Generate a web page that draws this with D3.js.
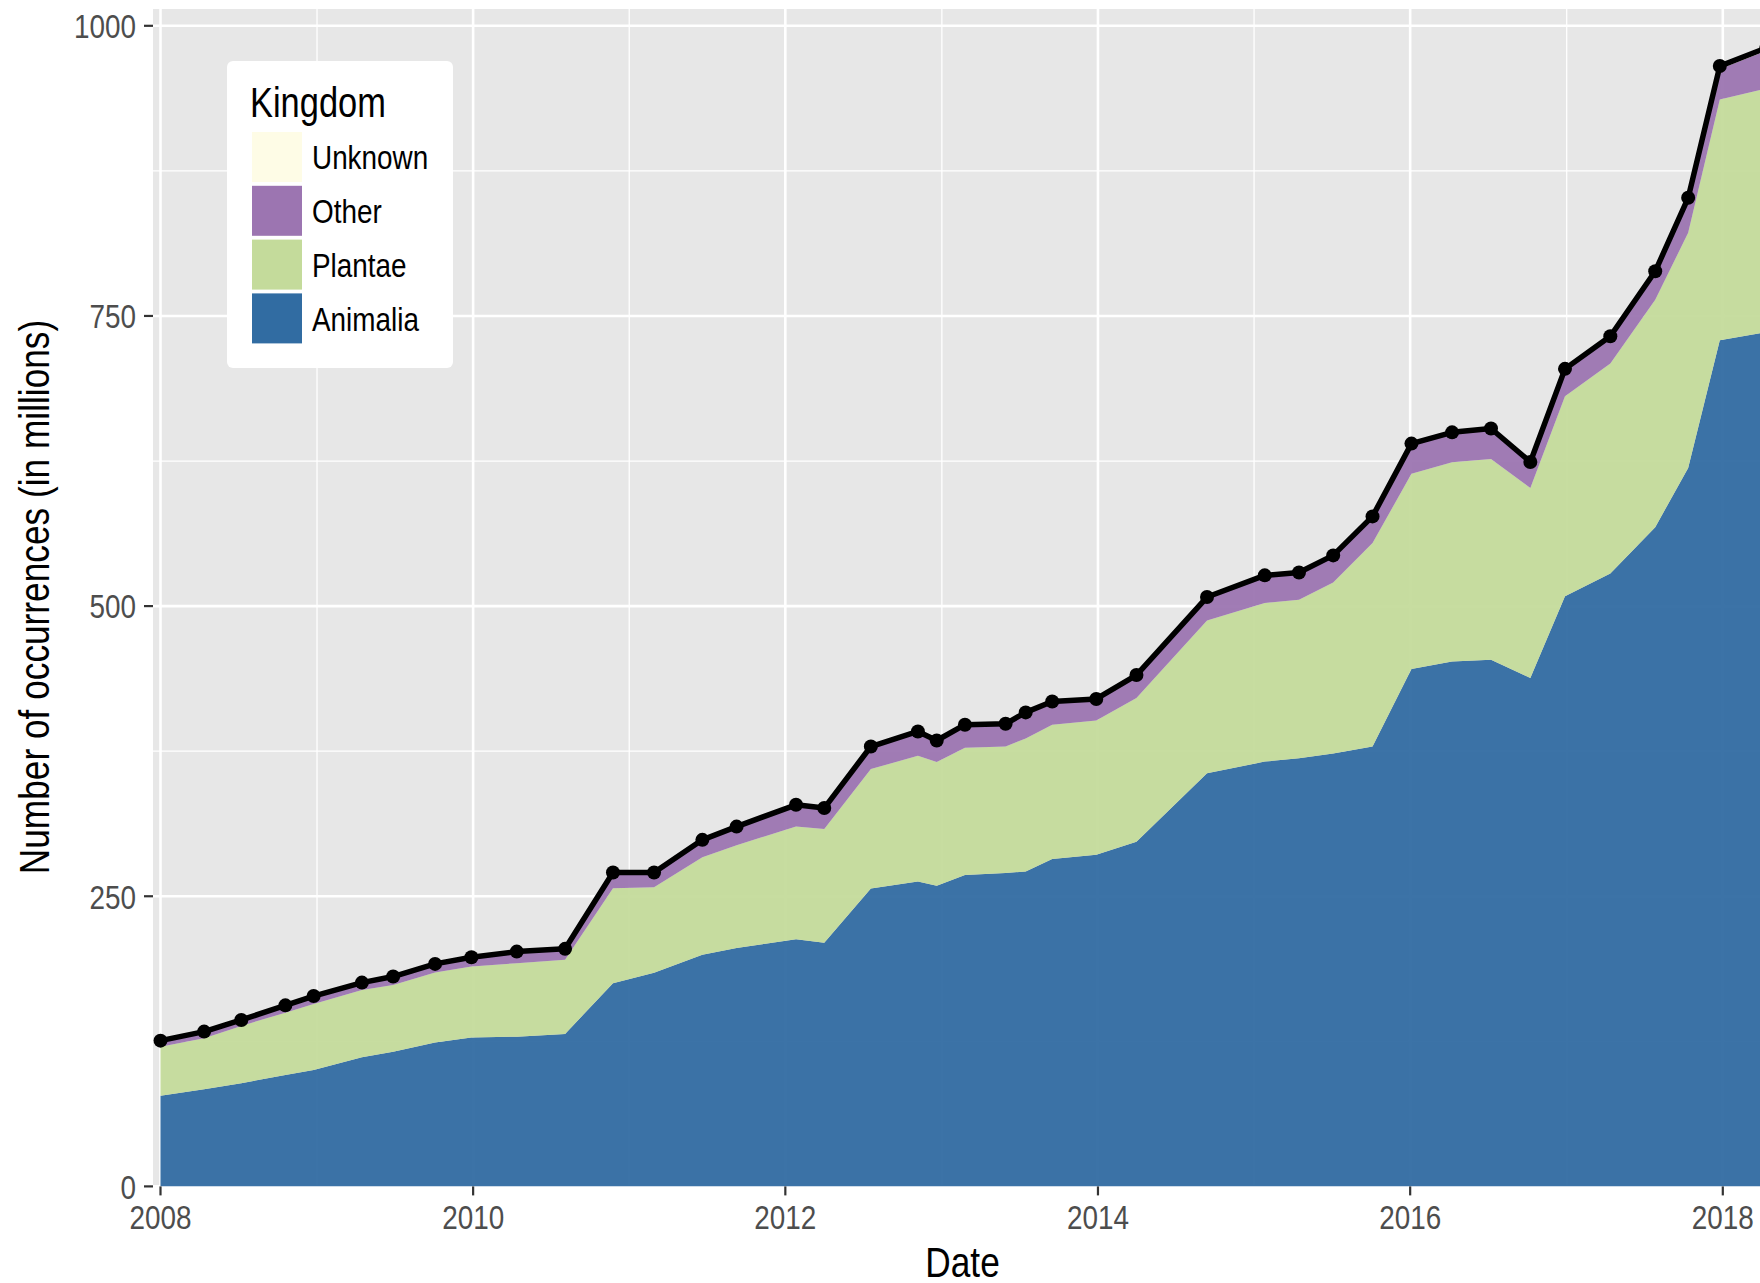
<!DOCTYPE html>
<html>
<head>
<meta charset="utf-8">
<script src="https://cdn.jsdelivr.net/npm/d3@7"></script>
<style>
  html, body { margin: 0; padding: 0; background: #ffffff; }
  svg { display: block; font-family: "Liberation Sans", Arial, sans-serif; }
</style>
</head>
<body>
<svg id="chart" width="1760" height="1283"></svg>
<script>
// snapshot dates
const dates = [
  "2008-01-01", "2008-04-12", "2008-07-08", "2008-10-19", "2008-12-24",
  "2009-04-16", "2009-06-28", "2009-10-04", "2009-12-28", "2010-04-13",
  "2010-08-04", "2010-11-24", "2011-02-28", "2011-06-21", "2011-09-09",
  "2012-01-26", "2012-04-01", "2012-07-19", "2012-11-06", "2012-12-20",
  "2013-02-24", "2013-05-30", "2013-07-16", "2013-09-16", "2013-12-28",
  "2014-04-01", "2014-09-13", "2015-01-26", "2015-04-16", "2015-07-05",
  "2015-10-05", "2016-01-04", "2016-04-08", "2016-07-08", "2016-10-08",
  "2016-12-28", "2017-04-13", "2017-07-27", "2017-10-12", "2017-12-25",
  "2018-04-13"
];

// occurrences per kingdom, in millions
const animalia = [
  78.0, 83.7, 88.9, 96.0, 100.3, 111.3, 116.0, 123.9, 128.2, 129.0,
  131.4, 175.0, 184.0, 199.5, 205.5, 213.0, 210.0, 256.6, 262.7, 259.0,
  268.4, 270.0, 271.3, 282.0, 285.7, 297.0, 356.0, 366.0, 369.0, 373.0,
  379.0, 445.8, 452.3, 453.8, 438.0, 508.4, 528.0, 568.0, 619.0, 729.0,
  736.0
];
const plantae = [
  42.4, 44.0, 49.4, 53.7, 56.9, 58.0, 57.6, 60.3, 61.2, 63.3,
  63.8, 82.0, 73.8, 84.2, 88.5, 97.0, 98.0, 103.0, 108.3, 106.6,
  109.6, 109.0, 114.7, 115.8, 115.8, 123.8, 131.7, 136.7, 136.5, 147.4,
  175.4, 168.2, 171.7, 173.0, 163.8, 172.4, 181.0, 196.0, 202.6, 207.5,
  210.0
];
const other = [
  4.9, 5.4, 4.8, 6.0, 6.5, 6.0, 6.9, 7.2, 7.8, 9.7,
  9.2, 12.9, 12.1, 14.4, 15.5, 18.3, 17.5, 18.9, 20.5, 18.1,
  19.3, 19.1, 21.9, 19.5, 18.0, 18.8, 19.1, 22.8, 22.5, 22.3,
  21.9, 24.5, 24.2, 24.7, 20.9, 21.6, 21.5, 22.5, 28.2, 26.3,
  32.5
];
const unknown = [
  0.3, 0.3, 0.3, 0.3, 0.3, 0.3, 0.3, 0.3, 0.3, 0.3,
  0.3, 0.5, 0.5, 0.5, 0.5, 0.5, 0.5, 0.5, 0.5, 0.5,
  0.5, 0.5, 0.5, 0.5, 0.5, 1.0, 1.0, 1.0, 1.0, 1.0,
  1.0, 1.5, 1.5, 1.5, 1.5, 2.0, 2.0, 2.0, 2.0, 2.5,
  2.5
];

const kingdoms = ["Animalia", "Plantae", "Other", "Unknown"]; // stack order, bottom to top
const legendOrder = ["Unknown", "Other", "Plantae", "Animalia"];
const yTicks = [0, 250, 500, 750, 1000];
const yMinor = [125, 375, 625, 875];
const xTickYears = [2008, 2010, 2012, 2014, 2016, 2018];
const xMinorYears = [2009, 2011, 2013, 2015, 2017];

document.addEventListener("DOMContentLoaded", () => {
  const svg = d3.select("#chart");

  const colors = {
    Animalia: "#316ca2",
    Plantae: "#c4db9b",
    Other: "#9c75b1",
    Unknown: "#fefce6",
  };

  // no narrow font installed, so squeeze Liberation Sans horizontally
  const SQUEEZE = 0.82;
  const place = (px, py, extra = "") => `translate(${px},${py}) ${extra} scale(${SQUEEZE},1)`;

  // panel box
  const panel = { left: 153, top: 9, right: 1772, bottom: 1186.4 };

  const parse = d3.timeParse("%Y-%m-%d");
  const rows = dates.map((d, i) => ({
    date: parse(d),
    Animalia: animalia[i],
    Plantae: plantae[i],
    Other: other[i],
    Unknown: unknown[i],
  }));
  rows.forEach((r) => {
    r.total = kingdoms.reduce((s, k) => s + r[k], 0);
  });

  const x = d3
    .scaleTime()
    .domain([new Date(2008, 0, 1), new Date(2018, 0, 1)])
    .range([160.5, 1722.8]);

  const y = d3.scaleLinear().domain([0, 1000]).range([1186.4, 25.8]);

  // panel background + grid
  svg
    .append("rect")
    .attr("x", panel.left)
    .attr("y", panel.top)
    .attr("width", panel.right - panel.left)
    .attr("height", panel.bottom - panel.top)
    .attr("fill", "#e7e7e7");

  const grid = svg.append("g").attr("stroke", "#ffffff");
  grid
    .selectAll("line.ymin")
    .data(yMinor)
    .join("line")
    .attr("x1", panel.left)
    .attr("x2", panel.right)
    .attr("y1", (d) => y(d))
    .attr("y2", (d) => y(d))
    .attr("stroke-width", 1.3);
  grid
    .selectAll("line.xmin")
    .data(xMinorYears)
    .join("line")
    .attr("x1", (d) => x(new Date(d, 0, 1)))
    .attr("x2", (d) => x(new Date(d, 0, 1)))
    .attr("y1", panel.top)
    .attr("y2", panel.bottom)
    .attr("stroke-width", 1.3);
  grid
    .selectAll("line.ymaj")
    .data(yTicks)
    .join("line")
    .attr("x1", panel.left)
    .attr("x2", panel.right)
    .attr("y1", (d) => y(d))
    .attr("y2", (d) => y(d))
    .attr("stroke-width", 2.6);
  grid
    .selectAll("line.xmaj")
    .data(xTickYears)
    .join("line")
    .attr("x1", (d) => x(new Date(d, 0, 1)))
    .attr("x2", (d) => x(new Date(d, 0, 1)))
    .attr("y1", panel.top)
    .attr("y2", panel.bottom)
    .attr("stroke-width", 2.6);

  svg
    .append("clipPath")
    .attr("id", "panel-clip")
    .append("rect")
    .attr("x", panel.left)
    .attr("y", panel.top)
    .attr("width", panel.right - panel.left)
    .attr("height", panel.bottom - panel.top);

  const plot = svg.append("g").attr("clip-path", "url(#panel-clip)");

  // stacked areas
  const stack = d3.stack().keys(kingdoms);
  const series = stack(rows);

  const area = d3
    .area()
    .x((d) => x(d.data.date))
    .y0((d) => y(d[0]))
    .y1((d) => y(d[1]));

  plot
    .selectAll("path.area")
    .data(series)
    .join("path")
    .attr("class", "area")
    .attr("d", area)
    .attr("fill", (d) => colors[d.key])
    .attr("fill-opacity", 0.95);

  // total line with points
  const line = d3
    .line()
    .x((d) => x(d.date))
    .y((d) => y(d.total));

  plot
    .append("path")
    .datum(rows)
    .attr("d", line)
    .attr("fill", "none")
    .attr("stroke", "#000000")
    .attr("stroke-width", 5.5)
    .attr("stroke-linejoin", "round");

  plot
    .selectAll("circle.pt")
    .data(rows)
    .join("circle")
    .attr("class", "pt")
    .attr("cx", (d) => x(d.date))
    .attr("cy", (d) => y(d.total))
    .attr("r", 7)
    .attr("fill", "#000000");

  // axes
  const yAxis = svg.append("g");
  yAxis
    .selectAll("line")
    .data(yTicks)
    .join("line")
    .attr("x1", panel.left - 9)
    .attr("x2", panel.left)
    .attr("y1", (d) => y(d))
    .attr("y2", (d) => y(d))
    .attr("stroke", "#333333")
    .attr("stroke-width", 2.2);
  yAxis
    .selectAll("text")
    .data(yTicks)
    .join("text")
    .attr("transform", (d) => place(panel.left - 17, y(d)))
    .attr("dy", "0.36em")
    .attr("text-anchor", "end")
    .attr("font-size", 34)
    .attr("fill", "#4d4d4d")
    .text((d) => d);

  const xAxis = svg.append("g");
  xAxis
    .selectAll("line")
    .data(xTickYears)
    .join("line")
    .attr("x1", (d) => x(new Date(d, 0, 1)))
    .attr("x2", (d) => x(new Date(d, 0, 1)))
    .attr("y1", panel.bottom)
    .attr("y2", panel.bottom + 9)
    .attr("stroke", "#333333")
    .attr("stroke-width", 2.2);
  xAxis
    .selectAll("text")
    .data(xTickYears)
    .join("text")
    .attr("transform", (d) => place(x(new Date(d, 0, 1)), 1229))
    .attr("text-anchor", "middle")
    .attr("font-size", 34)
    .attr("fill", "#4d4d4d")
    .text((d) => d);

  // axis titles
  svg
    .append("text")
    .attr("transform", place((panel.left + panel.right) / 2, 1277))
    .attr("text-anchor", "middle")
    .attr("font-size", 43)
    .attr("fill", "#000000")
    .text("Date");

  svg
    .append("text")
    .attr("transform", place(49, 597, "rotate(-90)"))
    .attr("text-anchor", "middle")
    .attr("font-size", 43)
    .attr("fill", "#000000")
    .text("Number of occurrences (in millions)");

  // legend
  const legend = svg.append("g");
  legend
    .append("rect")
    .attr("x", 227)
    .attr("y", 61)
    .attr("width", 226)
    .attr("height", 307)
    .attr("rx", 6)
    .attr("fill", "#ffffff");
  legend
    .append("text")
    .attr("transform", place(250, 117))
    .attr("font-size", 42)
    .attr("fill", "#000000")
    .text("Kingdom");

  const keyRows = legend
    .selectAll("g.key")
    .data(legendOrder)
    .join("g")
    .attr("class", "key")
    .attr("transform", (d, i) => `translate(252,${132 + i * 53.8})`);
  keyRows
    .append("rect")
    .attr("width", 50)
    .attr("height", 50)
    .attr("fill", (d) => colors[d]);
  keyRows
    .append("text")
    .attr("transform", place(60, 25))
    .attr("dy", "0.36em")
    .attr("font-size", 34)
    .attr("fill", "#000000")
    .text((d) => d);
});
</script>
</body>
</html>
